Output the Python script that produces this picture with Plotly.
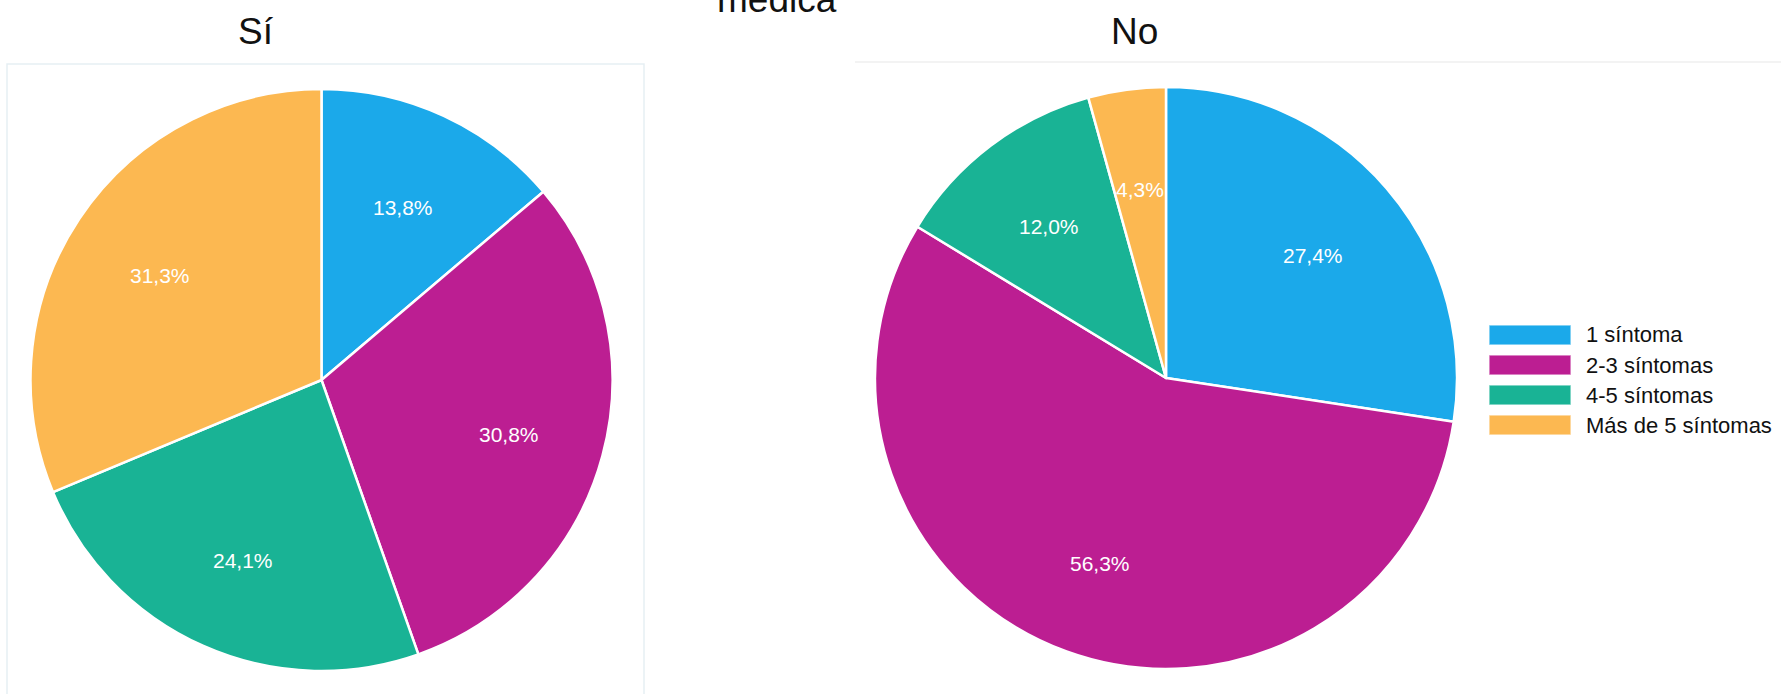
import math
import plotly.graph_objects as go

W, H = 1781, 694

categories = ["1 síntoma", "2-3 síntomas", "4-5 síntomas", "Más de 5 síntomas"]
si_values = [13.8, 30.8, 24.1, 31.3]
no_values = [27.4, 56.3, 12.0, 4.3]
group_titles = ["Sí", "No"]
main_title_tail = "médica"

colors = ["#1BA9EA", "#BC1E92", "#19B395", "#FCB851"]
FONT = "Liberation Sans, Arial, sans-serif"


def px_x(x):
    return x / W


def px_y(y):
    return 1 - y / H


def pie_domain(cx, cy, r):
    return dict(x=[px_x(cx - r), px_x(cx + r)], y=[px_y(cy + r), px_y(cy - r)])


fig = go.Figure()
R = 291
pies = [(si_values, (321.5, 380)), (no_values, (1166, 378))]
for vals, (cx, cy) in pies:
    fig.add_trace(go.Pie(
        labels=categories, values=vals, sort=False, direction="clockwise", rotation=0,
        domain=pie_domain(cx, cy, R),
        marker=dict(colors=colors, line=dict(color="white", width=2.5)),
        textinfo="none",
        hoverinfo="label+percent", showlegend=False,
    ))
    # slice labels at 2/3 of the radius on each slice's mid-angle
    total = sum(vals)
    cum = 0.0
    for v in vals:
        mid = (cum + v / 2) / total * 2 * math.pi
        cum += v
        lx = cx + (2 / 3) * R * math.sin(mid)
        ly = cy - (2 / 3) * R * math.cos(mid) + 3.5
        fig.add_annotation(text=f"{v:.1f}%".replace(".", ","), x=px_x(lx), y=px_y(ly),
                           xref="paper", yref="paper", xanchor="center", yanchor="middle",
                           showarrow=False, font=dict(size=21, color="white", family=FONT))

# panel frames
fig.add_shape(type="rect", xref="paper", yref="paper",
              x0=px_x(7), x1=px_x(644), y0=px_y(720), y1=px_y(64),
              line=dict(color="#E6EFF4", width=1.5), layer="below")
fig.add_shape(type="line", xref="paper", yref="paper",
              x0=px_x(855), x1=px_x(1781), y0=px_y(62), y1=px_y(62),
              line=dict(color="#F3F3F3", width=2), layer="below")

# titles
for t, cx in zip(group_titles, [256, 1134]):
    fig.add_annotation(text=t, x=px_x(cx), y=px_y(31), xref="paper", yref="paper",
                       xanchor="center", yanchor="middle", showarrow=False,
                       font=dict(size=37, color="#111111", family=FONT))
fig.add_annotation(text=main_title_tail, x=px_x(776.5), y=px_y(-1), xref="paper", yref="paper",
                   xanchor="center", yanchor="middle", showarrow=False,
                   font=dict(size=37, color="#111111", family=FONT))

# legend
lx0, lx1, ly0, dy, sh = 1489, 1571, 335, 30, 20
for i, (cat, col) in enumerate(zip(categories, colors)):
    yc = ly0 + i * dy
    fig.add_shape(type="rect", xref="paper", yref="paper",
                  x0=px_x(lx0), x1=px_x(lx1), y0=px_y(yc + sh / 2), y1=px_y(yc - sh / 2),
                  fillcolor=col, line=dict(color="rgba(255,255,255,0.6)", width=1.5))
    fig.add_annotation(text=cat, x=px_x(1584), y=px_y(yc), xref="paper", yref="paper",
                       xanchor="left", yanchor="middle", showarrow=False,
                       font=dict(size=22, color="#111111", family=FONT))

fig.update_layout(
    width=W, height=H, margin=dict(l=0, r=0, t=0, b=0),
    paper_bgcolor="white", plot_bgcolor="white",
    separators=",.", showlegend=False,
    font=dict(family=FONT),
)
fig.write_html("out.html", config={"displayModeBar": False},
               post_script="document.body.style.margin='0px';")
